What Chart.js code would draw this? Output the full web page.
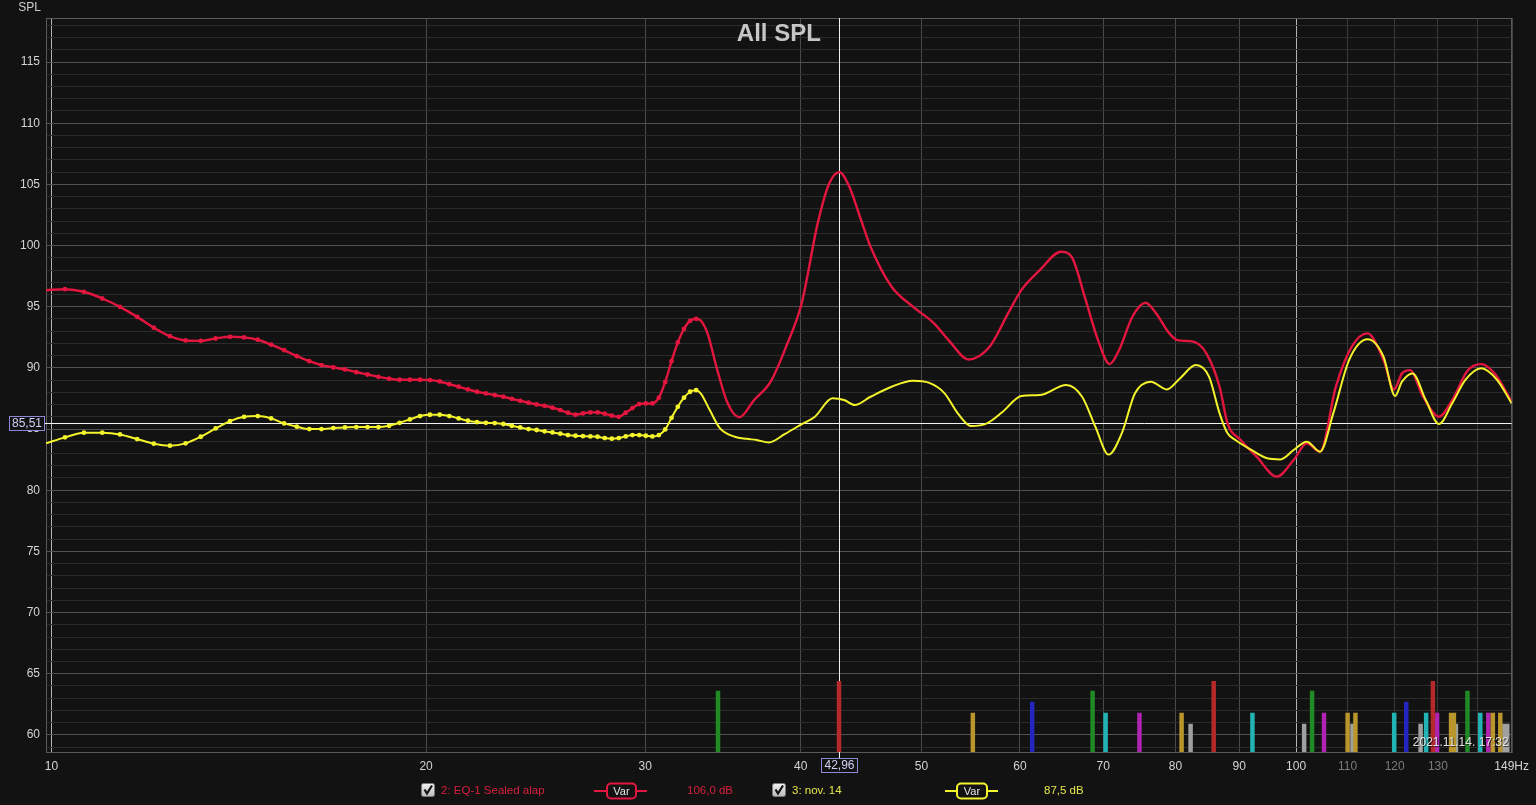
<!DOCTYPE html>
<html>
<head>
<meta charset="utf-8">
<script src="https://cdn.jsdelivr.net/npm/chart.js@4/dist/chart.umd.min.js"></script>
<style>
html,body{margin:0;padding:0;background:#121212;overflow:hidden}
#wrap{width:1536px;height:805px;position:relative}
canvas{display:block}
</style>
</head>
<body>
<div id="wrap"><canvas id="c" width="1536" height="805"></canvas></div>
<script>
// ---------- data ----------
const lowHz = [9.9, 10.254, 10.620, 10.986, 11.352, 11.718, 12.085, 12.451, 12.817, 13.183, 13.549, 13.916, 14.282, 14.648, 15.014, 15.381, 15.747, 16.113, 16.479, 16.846, 17.212, 17.578, 17.944, 18.311, 18.677, 19.043, 19.409, 19.775, 20.142, 20.508, 20.874, 21.240, 21.606, 21.973, 22.339, 22.705, 23.071, 23.438, 23.804, 24.170, 24.536, 24.902, 25.269, 25.635, 26.001, 26.367, 26.733, 27.100, 27.466, 27.832, 28.198, 28.564, 28.931, 29.297, 29.663, 30.029, 30.395, 30.762, 31.128, 31.494, 31.860, 32.227, 32.593, 32.959];
const redLowDb = [96.35, 96.43, 96.22, 95.67, 94.99, 94.17, 93.28, 92.59, 92.24, 92.21, 92.40, 92.54, 92.49, 92.30, 91.90, 91.45, 90.96, 90.55, 90.23, 90.04, 89.87, 89.65, 89.46, 89.27, 89.11, 89.03, 89.03, 89.03, 89.00, 88.89, 88.67, 88.46, 88.24, 88.05, 87.91, 87.77, 87.64, 87.47, 87.31, 87.15, 87.01, 86.90, 86.74, 86.55, 86.33, 86.17, 86.28, 86.36, 86.36, 86.25, 86.09, 86.00, 86.33, 86.71, 87.04, 87.09, 87.09, 87.56, 88.85, 90.55, 92.08, 93.18, 93.85, 94.01];
const yellowLowDb = [83.83, 84.32, 84.70, 84.70, 84.56, 84.18, 83.80, 83.64, 83.83, 84.37, 85.05, 85.65, 86.00, 86.06, 85.87, 85.46, 85.19, 85.00, 85.00, 85.08, 85.13, 85.16, 85.16, 85.16, 85.27, 85.51, 85.79, 86.06, 86.17, 86.17, 86.06, 85.87, 85.68, 85.57, 85.51, 85.49, 85.41, 85.27, 85.13, 85.00, 84.92, 84.81, 84.72, 84.62, 84.51, 84.45, 84.42, 84.40, 84.37, 84.26, 84.21, 84.26, 84.40, 84.51, 84.51, 84.45, 84.40, 84.51, 84.97, 85.92, 86.82, 87.56, 88.05, 88.18];

const redHighHz = [33.25, 33.66, 34.28, 34.94, 35.70, 36.69, 37.82, 38.97, 40.07, 41.27, 42.16, 42.96, 43.76, 44.63, 45.51, 47.32, 49.22, 51.18, 52.70, 54.54, 56.72, 58.69, 60.15, 62.24, 64.73, 66.01, 67.64, 69.32, 70.83, 72.08, 73.87, 75.69, 77.19, 79.10, 80.27, 82.66, 84.70, 86.80, 88.09, 90.26, 92.96, 96.48, 99.55, 102.01, 104.53, 107.64, 110.84, 114.14, 117.55, 119.87, 121.64, 123.44, 126.49, 130.26, 133.48, 137.45, 140.85, 144.34, 149];
const redHighDb = [93.85, 92.82, 89.8, 87.1, 85.96, 87.37, 88.85, 91.85, 95.3, 101.81, 105.07, 106.0, 104.80, 102.35, 99.90, 96.63, 95.00, 93.64, 92.14, 90.69, 91.73, 94.45, 96.36, 97.99, 99.49, 99.08, 95.81, 92.27, 90.31, 91.46, 94.18, 95.32, 94.45, 92.82, 92.27, 92.14, 91.19, 88.46, 85.47, 84.10, 82.74, 81.11, 82.47, 83.83, 83.15, 88.46, 91.73, 92.82, 90.64, 88.25, 89.55, 89.82, 87.64, 86.01, 87.37, 89.82, 90.31, 89.55, 87.24];

const yellowHighHz = [33.25, 33.8, 34.45, 35.4, 36.2, 36.87, 37.7, 38.85, 40.07, 41.06, 42.41, 43.33, 44.19, 45.51, 47.32, 49.22, 50.68, 52.19, 53.48, 54.81, 56.44, 58.12, 60.15, 62.24, 65.36, 67.31, 68.98, 70.69, 72.43, 74.23, 76.44, 78.72, 80.66, 83.07, 85.12, 86.80, 88.09, 89.39, 92.05, 94.79, 97.14, 99.55, 102.01, 104.53, 107.12, 110.30, 114.14, 117.55, 120.10, 121.64, 124.04, 127.11, 130.26, 133.48, 136.78, 140.85, 145.05, 149];
const yellowHighDb = [87.9, 86.55, 85.05, 84.37, 84.2, 84.10, 83.9, 84.6, 85.4, 86.01, 87.51, 87.37, 86.96, 87.64, 88.46, 88.95, 88.79, 87.92, 86.28, 85.25, 85.47, 86.42, 87.70, 87.78, 88.60, 87.64, 85.19, 82.91, 84.65, 87.92, 88.87, 88.24, 89.14, 90.23, 89.28, 86.28, 84.65, 84.10, 83.29, 82.61, 82.52, 83.29, 83.97, 83.15, 86.28, 90.64, 92.33, 90.91, 87.70, 88.87, 89.55, 87.37, 85.41, 87.10, 89.01, 89.96, 89.01, 87.10];

// marker bars (frequency lists per colour, with their top level in dB)
const markRedHz = [42.93, 85.86, 128.8];
const markGreenHz = [34.32, 68.63, 103.0, 137.3];
const markBlueHz = [61.37, 122.6];
const markGoldHz = [54.99, 80.91, 110.0, 111.6, 133.2, 133.9, 143.9, 145.9];
const markCyanHz = [70.30, 92.24, 119.9, 127.2, 140.6];
const markMagentaHz = [74.84, 105.3, 129.8, 142.7];
const markGrayHz = [82.27, 101.5, 111.0, 125.9, 134.4, 147.0, 147.8];
const markLevelsDb = {red: 64.4, green: 63.6, blue: 62.7, gold: 61.8, cyan: 61.8, magenta: 61.8, gray: 60.9};

const xTickHz = [10, 20, 30, 40, 50, 60, 70, 80, 90, 100, 110, 120, 130, 140, 149];
const yLabelDb = [60, 65, 70, 75, 80, 85, 90, 95, 100, 105, 110, 115];
const cursorHz = 42.96;
const cursorDb = 85.51;
const redCursorDb = 106.0;
const yellowCursorDb = 87.5;
const seriesNames = ['2: EQ-1 Sealed alap', '3: nov. 14'];
const dateText = '2021.11.14. 17:32';

const X_MIN = 9.9, X_MAX = 149, Y_MIN = 58.6, Y_MAX = 118.6;

// ---------- build ----------
function pts(hzA, dbA) { return hzA.map((f, i) => ({x: f, y: dbA[i]})); }
const redData = pts(lowHz, redLowDb).concat(pts(redHighHz, redHighDb));
const yellowData = pts(lowHz, yellowLowDb).concat(pts(yellowHighHz, yellowHighDb));

function barData(hzA, level) {
  const out = [];
  hzA.forEach(f => { out.push({x: f, y: Y_MIN}, {x: f, y: level}, {x: f, y: null}); });
  return out;
}
const RED = '#e3163f', YEL = '#f4f42c';
const dotR = (ctx) => { const r = ctx.raw; return (r && r.x > 10 && r.x < 33.1) ? 2.4 : 0; };

const markStyles = [
  [markRedHz, markLevelsDb.red, '#b42a2a'],
  [markGreenHz, markLevelsDb.green, '#208a24'],
  [markBlueHz, markLevelsDb.blue, '#2424c0'],
  [markGoldHz, markLevelsDb.gold, '#b8962c'],
  [markCyanHz, markLevelsDb.cyan, '#22b4b4'],
  [markMagentaHz, markLevelsDb.magenta, '#b024b4'],
  [markGrayHz, markLevelsDb.gray, '#a0a0a0']
];
const barSets = markStyles.map(([hz, lv, col]) => ({
  data: barData(hz, lv), borderColor: col, borderWidth: 4.5, borderCapStyle: 'butt',
  pointRadius: 0, spanGaps: false, order: 5, tension: 0
}));

const yTicks = [];
for (let v = 59; v <= 118; v++) yTicks.push(v);

const FONT = '"Liberation Sans", Arial, sans-serif';
Chart.defaults.font.family = FONT;
Chart.defaults.font.size = 12;

function legendCheck(ctx, x, y) {
  ctx.save();
  const g = ctx.createLinearGradient(0, y, 0, y + 13);
  g.addColorStop(0, '#f4f4f4'); g.addColorStop(1, '#bcbcbc');
  ctx.fillStyle = g; ctx.strokeStyle = '#7a7a7a'; ctx.lineWidth = 1;
  ctx.beginPath(); ctx.roundRect(x + 0.5, y + 0.5, 13, 13, 2); ctx.fill(); ctx.stroke();
  ctx.strokeStyle = '#111'; ctx.lineWidth = 2.2; ctx.lineJoin = 'miter';
  ctx.beginPath(); ctx.moveTo(x + 3.5, y + 6.5); ctx.lineTo(x + 6, y + 10.5); ctx.lineTo(x + 11, y + 2.5); ctx.stroke();
  ctx.restore();
}
function legendVar(ctx, x0, x1, bx, bw, y, col) {
  ctx.save();
  ctx.strokeStyle = col; ctx.lineWidth = 2;
  ctx.beginPath(); ctx.moveTo(x0, y); ctx.lineTo(x1, y); ctx.stroke();
  ctx.fillStyle = '#121212';
  ctx.beginPath(); ctx.roundRect(bx, y - 7.5, bw, 15, 4); ctx.fill(); ctx.stroke();
  ctx.fillStyle = '#e6e6e6'; ctx.font = '11px ' + FONT; ctx.textAlign = 'center'; ctx.textBaseline = 'middle';
  ctx.fillText('Var', bx + bw / 2, y + 0.5);
  ctx.restore();
}
function fmt(v, d) { return v.toFixed(d).replace('.', ','); }

const decor = {
  id: 'decor',
  beforeDraw(chart) {
    const c = chart.ctx;
    c.save(); c.fillStyle = '#121212'; c.fillRect(0, 0, chart.width, chart.height); c.restore();
  },
  beforeDatasetsDraw(chart) {
    const c = chart.ctx, a = chart.chartArea, xs = chart.scales.x, ys = chart.scales.y;
    c.save();
    c.strokeStyle = '#5a5a5a'; c.lineWidth = 1;
    c.strokeRect(a.left + 0.5, a.top + 0.5, a.right - a.left, a.bottom - a.top);
    c.strokeStyle = '#f2f2f2';
    const cx = Math.round(xs.getPixelForValue(cursorHz)) + 0.5;
    c.beginPath(); c.moveTo(cx, a.top); c.lineTo(cx, a.bottom + 6); c.stroke();
    const cy = Math.round(ys.getPixelForValue(cursorDb)) + 0.5;
    c.beginPath(); c.moveTo(44, cy); c.lineTo(a.right, cy); c.stroke();
    c.restore();
  },
  afterDatasetsDraw(chart) {
    const c = chart.ctx, a = chart.chartArea;
    c.save();
    c.font = '12px ' + FONT; c.textAlign = 'right'; c.textBaseline = 'middle';
    c.fillStyle = 'rgba(0,0,0,0.6)'; c.fillText(dateText, a.right - 2, a.bottom - 8);
    c.fillStyle = '#e2e2e2'; c.fillText(dateText, a.right - 3, a.bottom - 9);
    c.restore();
  },
  afterDraw(chart) {
    const c = chart.ctx, a = chart.chartArea, xs = chart.scales.x, ys = chart.scales.y;
    c.save();
    // title
    c.font = 'bold 24px ' + FONT; c.fillStyle = '#c6c6c6'; c.textAlign = 'center'; c.textBaseline = 'middle';
    c.fillText('All SPL', (a.left + a.right) / 2, 34);
    // axis name
    c.font = '12px ' + FONT; c.fillStyle = '#cfcfcf'; c.textAlign = 'right';
    c.fillText('SPL', 41, 8);
    // cursor value boxes
    const cx = Math.round(xs.getPixelForValue(cursorHz));
    const cy = Math.round(ys.getPixelForValue(cursorDb));
    c.fillStyle = '#121212'; c.strokeStyle = '#8a8ad6'; c.lineWidth = 1;
    c.fillRect(cx - 17.5, 758.5, 36, 14); c.strokeRect(cx - 17.5, 758.5, 36, 14);
    c.fillRect(9.5, cy - 6.5, 35, 14); c.strokeRect(9.5, cy - 6.5, 35, 14);
    c.fillStyle = '#cfd0f2'; c.textAlign = 'center';
    c.fillText(fmt(cursorHz, 2), cx + 0.5, 766);
    c.fillText(fmt(cursorDb, 2), 27, cy + 1);
    // legend
    const ly = 791;
    legendCheck(c, 421, 783);
    c.font = '11.5px ' + FONT; c.textAlign = 'left'; c.textBaseline = 'middle';
    c.fillStyle = '#d8203e'; c.fillText(seriesNames[0], 441, ly);
    legendVar(c, 594, 647, 607, 29, ly, RED);
    c.font = '11.5px ' + FONT; c.textAlign = 'left'; c.textBaseline = 'middle';
    c.fillStyle = '#d8203e'; c.fillText(fmt(redCursorDb, 1) + ' dB', 687, ly);
    legendCheck(c, 772, 783);
    c.fillStyle = '#e6e64c'; c.fillText(seriesNames[1], 792, ly);
    legendVar(c, 945, 998, 957, 30, ly, YEL);
    c.font = '11.5px ' + FONT; c.textAlign = 'left'; c.textBaseline = 'middle';
    c.fillStyle = '#e6e64c'; c.fillText(fmt(yellowCursorDb, 1) + ' dB', 1044, ly);
    c.restore();
  }
};

new Chart(document.getElementById('c'), {
  type: 'line',
  data: {
    datasets: [
      {data: yellowData, borderColor: YEL, backgroundColor: YEL, borderWidth: 2, pointRadius: dotR,
       pointBackgroundColor: YEL, pointBorderWidth: 0, cubicInterpolationMode: 'monotone', order: 1},
      {data: redData, borderColor: RED, backgroundColor: RED, borderWidth: 2.4, pointRadius: dotR,
       pointBackgroundColor: RED, pointBorderWidth: 0, cubicInterpolationMode: 'monotone', order: 2}
    ].concat(barSets)
  },
  options: {
    responsive: false, animation: false, devicePixelRatio: 1, events: [],
    layout: {padding: {top: 18, right: 21, left: 0, bottom: 0}},
    plugins: {legend: {display: false}, tooltip: {enabled: false}, title: {display: false}},
    scales: {
      x: {
        type: 'logarithmic', min: X_MIN, max: X_MAX,
        afterBuildTicks: (s) => { s.ticks = xTickHz.map(v => ({value: v})); },
        afterFit: (s) => { s.height = 53; },
        ticks: {
          autoSkip: false, maxRotation: 0, minRotation: 0, padding: 7,
          font: {size: 12},
          callback: (v) => v === 149 ? '149Hz' : (v === 140 ? '' : String(v)),
          color: (ctx) => [110, 120, 130].includes(ctx.tick.value) ? '#7c7c7c' : '#d4d4d4'
        },
        grid: {
          drawTicks: false, lineWidth: 1,
          color: (ctx) => {
            const v = ctx.tick && ctx.tick.value;
            if (v === 10 || v === 100) return '#b4b4b4';
            if (v === 149) return '#5a5a5a';
            return v > 100 ? '#3a3a3a' : '#4a4a4a';
          }
        },
        border: {display: true, color: '#5a5a5a'}
      },
      y: {
        type: 'linear', min: Y_MIN, max: Y_MAX,
        afterBuildTicks: (s) => { s.ticks = yTicks.map(v => ({value: v})); },
        afterFit: (s) => { s.width = 46; },
        ticks: {
          autoSkip: false, padding: 6, font: {size: 12}, color: '#d4d4d4',
          callback: (v) => yLabelDb.includes(v) ? String(v) : ''
        },
        grid: {
          drawTicks: false, lineWidth: 1,
          color: (ctx) => (ctx.tick && yLabelDb.includes(ctx.tick.value)) ? '#525252' : '#2b2b2b'
        },
        border: {display: true, color: '#5a5a5a'}
      }
    }
  },
  plugins: [decor]
});
</script>
</body>
</html>
